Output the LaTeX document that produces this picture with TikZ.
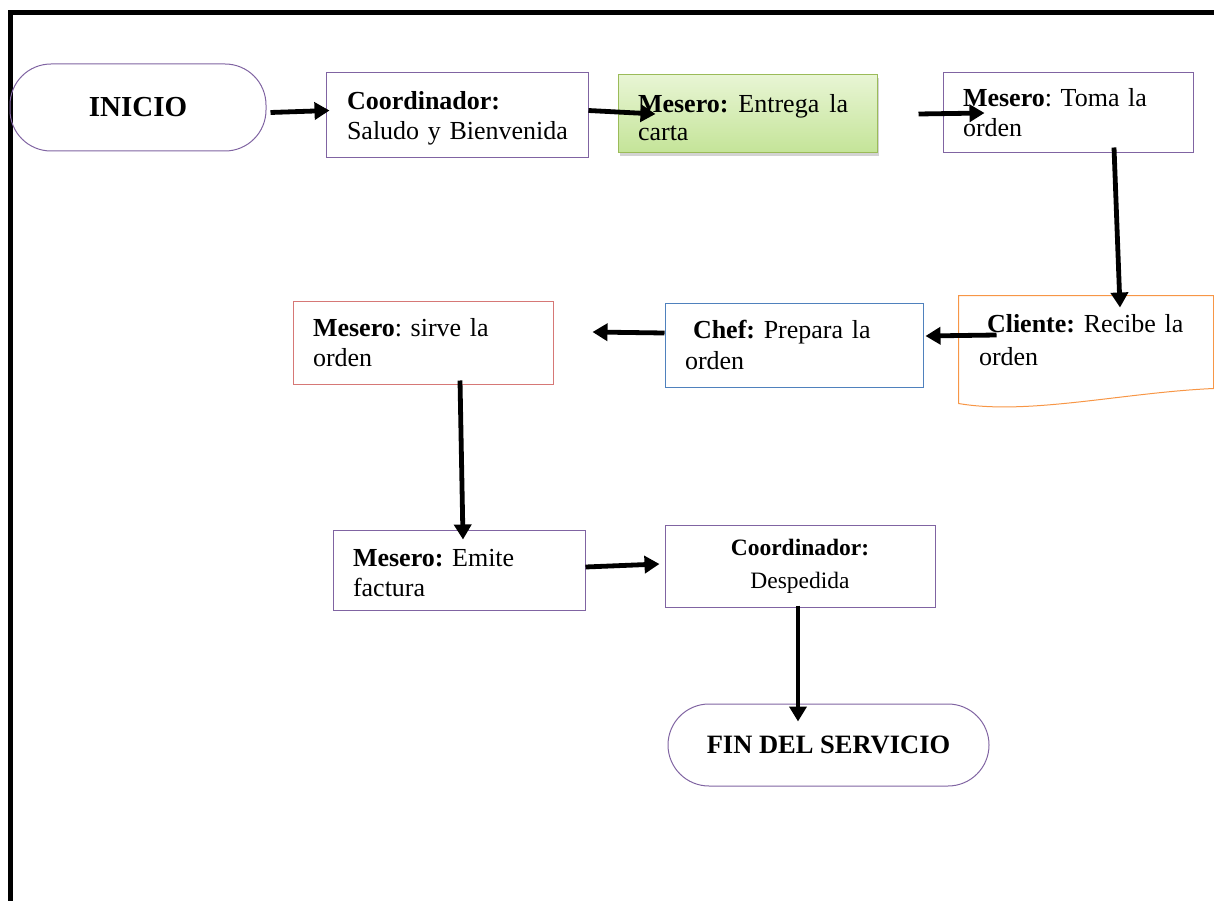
\documentclass[tikz,border=0pt]{standalone}
\usepackage{fontspec}
\setmainfont{Liberation Serif}
\usetikzlibrary{calc,arrows.meta,shadows}

\definecolor{purp}{RGB}{128,100,162}
\definecolor{grnline}{RGB}{155,187,89}
\definecolor{grntop}{RGB}{232,245,212}
\definecolor{grnbot}{RGB}{196,228,152}
\definecolor{orng}{RGB}{247,150,70}
\definecolor{blu}{RGB}{79,129,189}
\definecolor{redl}{RGB}{214,120,118}

\newcommand{\bodyfont}{\fontsize{26}{30}\selectfont\frenchspacing}

\tikzset{
  box/.style={draw=purp, line width=1pt, inner xsep=20pt, inner ysep=0pt,
    align=left, font=\bodyfont},
  terminal/.style={draw=purp, line width=1pt, rounded corners=41pt,
    inner sep=0pt, align=center, font=\fontsize{26.5}{30}\selectfont\bfseries},
  flow/.style={line width=4.8pt, -{Triangle[length=15pt,width=17pt]}},
}

\begin{document}
\begin{tikzpicture}[x=1pt,y=-1pt]
\useasboundingbox (0,0) rectangle (1214,901);
\clip (0,0) rectangle (1214,901);

% page frame
\draw[line width=5pt] (1220,12.5) -- (10,12.5) -- (10,910);

% steps of the service
\node[terminal, minimum width=256pt, minimum height=87pt,
      font=\fontsize{29}{30}\selectfont\bfseries] (ini) at (138,107.5) {INICIO};

\node[box, inner xsep=21pt, text width=220pt, minimum width=262pt, minimum height=85pt]
  (c1) at (457,115.5) {\mbox{\rule{0pt}{24pt}\textbf{Coordinador:}}\\\mbox{Saludo y Bienvenida}};

\node[box, draw=grnline, top color=grntop, bottom color=grnbot,
      drop shadow={shadow xshift=2pt, shadow yshift=-3pt, opacity=0.35},
      text width=219pt, minimum width=259pt, minimum height=78pt,
      font=\fontsize{26}{28}\selectfont\frenchspacing]
  (c2) at (747.5,114) {\mbox{\rule{0pt}{26pt}\textbf{Mesero:}\hspace{10pt}Entrega\hspace{10pt}la}\\\mbox{carta}};

\node[box, text width=210pt, minimum width=250pt, minimum height=80pt]
  (c3) at (1068,113) {\mbox{\textbf{Mesero}: Toma la}\\\mbox{orden}};

\node[box, draw=none, text width=214pt, minimum width=254pt, minimum height=88pt,
      font=\fontsize{26}{33}\selectfont\frenchspacing]
  (cli) at (1086,340) {\mbox{\hspace*{8pt}\textbf{Cliente:} Recibe la}\\\mbox{orden}};
\draw[orng, line width=1pt]
  ($(cli.south west)+(0,19)$) -- (cli.north west) -- (cli.north east)
  -- ($(cli.south east)+(0,4)$)
  .. controls ($(cli.south east)+(-90,8)$) and ($(cli.south west)+(70,31)$)
  .. ($(cli.south west)+(0,19)$);

\node[box, draw=blu, text width=218pt, minimum width=258pt, minimum height=84pt,
      font=\fontsize{26}{31}\selectfont\frenchspacing]
  (chef) at (794,345) {\mbox{\hspace*{8pt}\textbf{Chef:} Prepara la}\\\mbox{orden}};

\node[box, draw=redl, text width=220pt, minimum width=260pt, minimum height=83pt]
  (sirve) at (423,342.5) {\mbox{\textbf{Mesero}: sirve la}\\\mbox{orden}};

\node[box, text width=212pt, minimum width=252pt, minimum height=80pt]
  (emite) at (459,570) {\mbox{\rule{0pt}{24pt}\textbf{Mesero:} Emite}\\\mbox{factura}};

\node[box, align=center, text width=230pt, minimum width=270pt, minimum height=82pt,
      font=\fontsize{23.5}{33}\selectfont]
  (desp) at (800,566) {\textbf{Coordinador:}\\Despedida};

\node[terminal, minimum width=321pt, minimum height=82pt]
  (fin) at (828.5,745) {FIN DEL SERVICIO};

% connectors
\draw[flow] ($(ini.east)+(4,5)$) -- ($(c1.west)+(4,-5)$);
\draw[flow] ($(c1.east)+(0,-5)$) -- ($(c2.west)+(38,0)$);
\draw[flow] ($(c2.east)+(41,0)$) -- ($(c3.west)+(42,0)$);
\draw[flow] ($(c3.south)+(46,-6)$) -- ($(cli.north)+(34,12)$);
\draw[flow] ($(cli.west)+(38,-5)$) -- ($(chef.east)+(2,-9)$);
\draw[flow] ($(chef.west)+(0,-12)$) -- ($(sirve.east)+(39,-10.5)$);
\draw[flow] ($(sirve.south)+(37,-4)$) -- ($(emite.north)+(4,10)$);
\draw[flow] ($(emite.east)+(0,-3)$) -- ($(desp.west)+(-5,-2)$);
\draw[flow] ($(desp.south)+(-2,-2)$) -- ($(fin.north)+(-30.5,18)$);
\end{tikzpicture}
\end{document}
